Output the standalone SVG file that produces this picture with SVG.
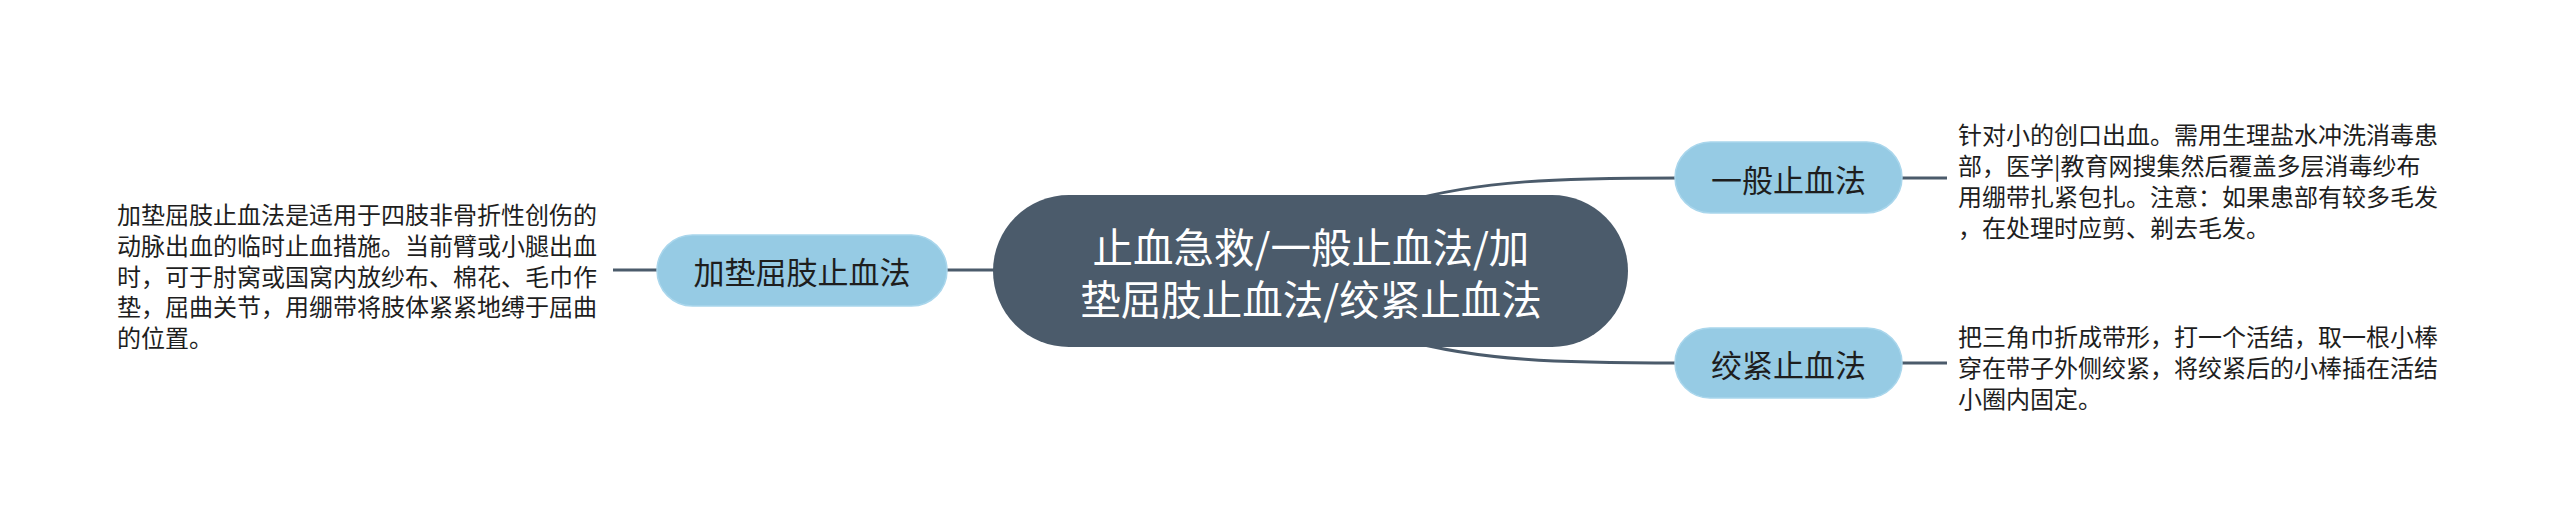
<svg xmlns="http://www.w3.org/2000/svg" width="2560" height="526" viewBox="0 0 2560 526">
<style>
.conn{fill:none;stroke:#4b5b6b;stroke-width:3;stroke-linecap:butt}
.sub{fill:#96cbe4;stroke:#a9d6ec;stroke-width:1.5}
.root{fill:#4b5b6b}
.t{font-family:"Noto Sans CJK SC","Noto Sans",sans-serif;dominant-baseline:central}
.desc{font-size:24px;fill:#1e1e1e}
.subt{font-size:31px;fill:#1e1e1e;text-anchor:middle}
.roott{font-size:40.5px;fill:#ffffff;text-anchor:middle}
</style>
<rect width="2560" height="526" fill="#ffffff"/>
<g id="connectors">
<path class="conn" d="M613,270 H660"/>
<path class="conn" d="M944,270 H998"/>
<path class="conn" d="M1400,203 C1480,180 1560,178 1680,178"/>
<path class="conn" d="M1400,339 C1480,361 1560,363 1680,363"/>
<path class="conn" d="M1898,178 H1947"/>
<path class="conn" d="M1898,363 H1947"/>
</g>
<g id="root">
<rect class="root" x="993" y="195" width="635" height="152" rx="76"/>
<text class="t roott" x="1311" y="245.5">止血急救/一般止血法/加</text>
<text class="t roott" x="1311" y="297">垫屈肢止血法/绞紧止血法</text>
</g>
<g id="node-jiadian">
<rect class="sub" x="657" y="235" width="290" height="71" rx="35.5"/>
<text class="t subt" x="802" y="270">加垫屈肢止血法</text>
</g>
<g id="node-jiadian-desc">
<text class="t desc" x="117" y="213">加垫屈肢止血法是适用于四肢非骨折性创伤的</text>
<text class="t desc" x="117" y="244">动脉出血的临时止血措施。当前臂或小腿出血</text>
<text class="t desc" x="117" y="275">时，可于肘窝或国窝内放纱布、棉花、毛巾作</text>
<text class="t desc" x="117" y="305">垫，屈曲关节，用绷带将肢体紧紧地缚于屈曲</text>
<text class="t desc" x="117" y="336">的位置。</text>
</g>
<g id="node-yiban">
<rect class="sub" x="1675" y="142" width="227" height="71" rx="35.5"/>
<text class="t subt" x="1788.5" y="178">一般止血法</text>
</g>
<g id="node-yiban-desc">
<text class="t desc" x="1958" y="133">针对小的创口出血。需用生理盐水冲洗消毒患</text>
<text class="t desc" x="1958" y="164">部，医学|教育网搜集然后覆盖多层消毒纱布</text>
<text class="t desc" x="1958" y="195">用绷带扎紧包扎。注意：如果患部有较多毛发</text>
<text class="t desc" x="1958" y="226">，在处理时应剪、剃去毛发。</text>
</g>
<g id="node-jiaojin">
<rect class="sub" x="1675" y="328" width="227" height="70" rx="35"/>
<text class="t subt" x="1788.5" y="363">绞紧止血法</text>
</g>
<g id="node-jiaojin-desc">
<text class="t desc" x="1958" y="335">把三角巾折成带形，打一个活结，取一根小棒</text>
<text class="t desc" x="1958" y="366">穿在带子外侧绞紧，将绞紧后的小棒插在活结</text>
<text class="t desc" x="1958" y="397">小圈内固定。</text>
</g>
</svg>
